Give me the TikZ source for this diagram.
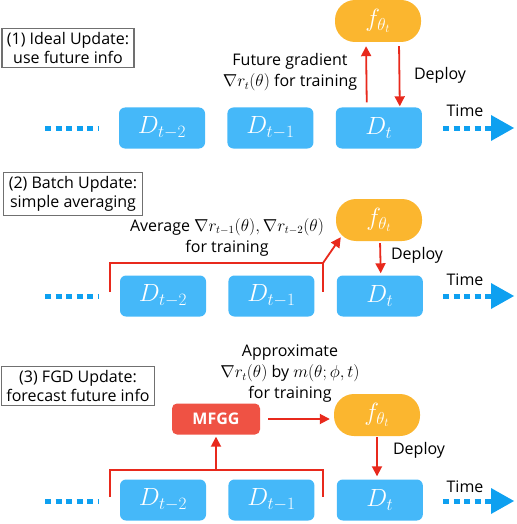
\documentclass[tikz,border=0pt]{standalone}
\usepackage[no-math]{fontspec}
\setmainfont{Open Sans}
\usetikzlibrary{arrows.meta,positioning}
\definecolor{datablue}{HTML}{45B8F9}
\definecolor{modelorange}{HTML}{FBB62F}
\definecolor{mfggred}{HTML}{EF5244}
\definecolor{arrowred}{HTML}{E8291C}
\definecolor{timeblue}{HTML}{0EA0F0}
\definecolor{taggray}{HTML}{707070}

\begin{document}
\begin{tikzpicture}[x=1pt, y=-1pt,
   node distance=22pt,
   font=\fontsize{16}{19}\selectfont,
   dbox/.style={fill=datablue, rounded corners=6pt, minimum width=86pt,
                minimum height=41pt, text=white, font=\fontsize{23}{25}\selectfont},
   fbox/.style={fill=modelorange, rounded corners=20pt, minimum width=86pt,
                minimum height=42pt, text=white, font=\fontsize{23}{25}\selectfont},
   mfggbox/.style={fill=mfggred, rounded corners=5pt, minimum width=88pt,
                minimum height=31pt, text=white, font=\fontsize{16}{19}\selectfont\bfseries},
   tag/.style={draw=taggray, line width=1.2pt, align=center, inner xsep=5pt, inner ysep=4pt},
   note/.style={align=center, font=\fontsize{16}{21}\selectfont},
   upd/.style={draw=arrowred, line width=1.8pt, -{Triangle[length=10pt,width=10pt]}},
   brk/.style={draw=arrowred, line width=1.8pt},
   timeline/.style={draw=timeblue, line width=5pt, dash pattern=on 6pt off 4.5pt},
   timehead/.style={-{Triangle[length=23pt,width=26pt,line width=0pt]}}]
  \useasboundingbox (0,0) rectangle (516,524);

  % (1) ideal update
  \node[tag] (tag1) at (68,48) {(1) Ideal Update:\\use future info};
  \node[dbox] (d1a) at (162,128) {$D_{t-2}$};
  \node[dbox, right=of d1a] (d1b) {$D_{t-1}$};
  \node[dbox, right=of d1b] (d1c) {$D_t$};
  \node[fbox] (f1) at (378,21) {$f_{\theta_t}$};
  \coordinate (l1s) at (45,128); \coordinate (l1e) at (98,128);
  \coordinate (r1s) at (443,128); \coordinate (r1e) at (514,128);
  \draw[timeline] (l1s) -- (l1e);
  \draw[timeline, timehead] (r1s) -- (r1e);
  \node (time1) at (465,111) {Time};
  \draw[upd, shorten <=5pt, shorten >=4pt] ([xshift=-12pt]d1c.north) -- ([xshift=-12pt]f1.south);
  \draw[upd, shorten <=4pt, shorten >=1pt] ([xshift=21pt]f1.south) -- ([xshift=21pt]d1c.north);
  \node[note] (n1) at (290,72) {Future gradient\\$\nabla r_t(\theta)$ for training};
  \node (dep1) at (440,75) {Deploy};

  % (2) batch update
  \node[tag] (tag2) at (73,194) {(2) Batch Update:\\simple averaging};
  \node[dbox] (d2a) at (163,296) {$D_{t-2}$};
  \node[dbox, right=of d2a] (d2b) {$D_{t-1}$};
  \node[dbox, right=of d2b] (d2c) {$D_t$};
  \node[fbox] (f2) at (379,220) {$f_{\theta_t}$};
  \coordinate (l2s) at (45,296); \coordinate (l2e) at (98,296);
  \coordinate (r2s) at (443,296); \coordinate (r2e) at (514,296);
  \draw[timeline] (l2s) -- (l2e);
  \draw[timeline, timehead] (r2s) -- (r2e);
  \node (time2) at (465,280) {Time};
  \coordinate (b2a) at (110,292); \coordinate (b2b) at (110,263);
  \coordinate (b2c) at (323,263); \coordinate (b2d) at (323,292);
  \draw[brk] (b2a) -- (b2b) -- (b2c) -- (b2d);
  \draw[upd] (b2c) -- ([xshift=5pt,yshift=4pt]f2.south west);
  \draw[upd, shorten <=2pt, shorten >=2pt] ([xshift=1pt]f2.south) -- ([xshift=1pt]d2c.north);
  \node[note] (n2) at (227,237) {Average $\nabla r_{t-1}(\theta), \nabla r_{t-2}(\theta)$\\for training};
  \node (dep2) at (417,255) {Deploy};

  % (3) FGD update
  \node[tag] (tag3) at (78,386) {(3) FGD Update:\\forecast future info};
  \node[dbox] (d3a) at (163,500) {$D_{t-2}$};
  \node[dbox, right=of d3a] (d3b) {$D_{t-1}$};
  \node[dbox, right=of d3b] (d3c) {$D_t$};
  \node[fbox] (f3) at (377,415) {$f_{\theta_t}$};
  \node[mfggbox] (mfgg) at (216,419) {MFGG};
  \coordinate (l3s) at (45,501); \coordinate (l3e) at (98,501);
  \coordinate (r3s) at (443,501); \coordinate (r3e) at (514,501);
  \draw[timeline] (l3s) -- (l3e);
  \draw[timeline, timehead] (r3s) -- (r3e);
  \node (time3) at (465,487) {Time};
  \coordinate (b3a) at (110,497); \coordinate (b3b) at (110,470);
  \coordinate (b3c) at (323,470); \coordinate (b3d) at (323,497);
  \draw[brk] (b3a) -- (b3b) -- (b3c) -- (b3d);
  \draw[upd, shorten >=2pt] (mfgg.south |- b3b) -- (mfgg.south);
  \draw[upd, shorten <=8pt, shorten >=4pt] (mfgg.east) -- (mfgg.east -| f3.west);
  \draw[upd, shorten <=1pt, shorten >=3pt] (f3.south) -- (f3.south |- d3c.north);
  \node[note] (n3) at (290,374) {Approximate\\$\nabla r_t(\theta)$ by $m(\theta;\phi,t)$\\for training};
  \node (dep3) at (419,450) {Deploy};
\end{tikzpicture}
\end{document}
